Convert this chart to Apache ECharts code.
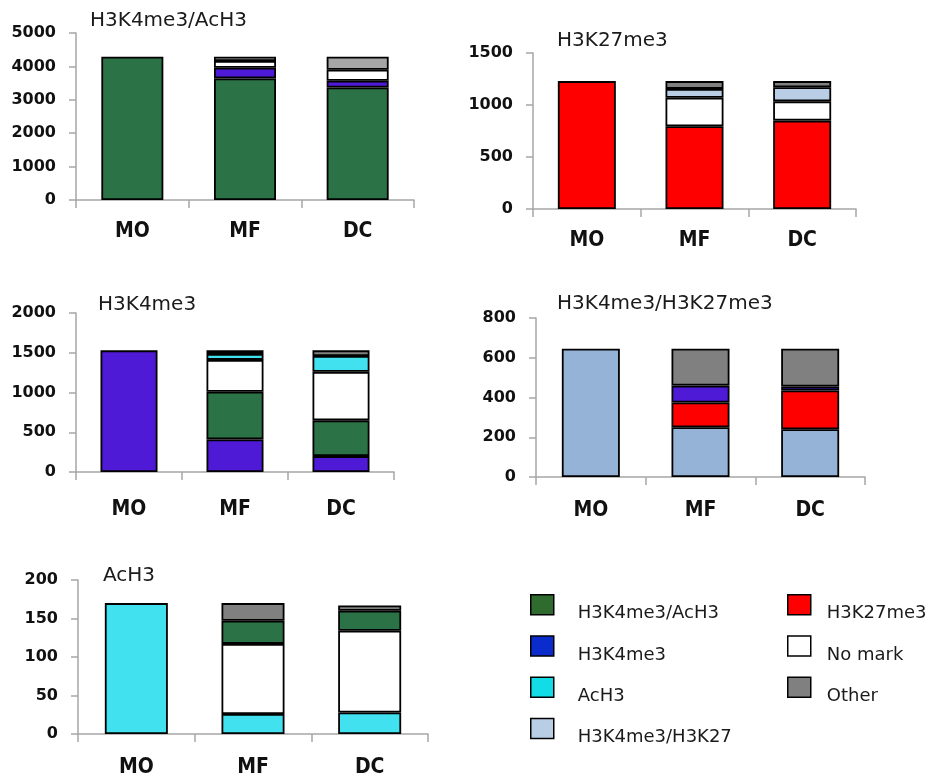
<!DOCTYPE html>
<html>
<head>
<meta charset="utf-8">
<script src="https://cdn.jsdelivr.net/npm/echarts@6/dist/echarts.min.js"></script>
<style>
  html, body { margin: 0; padding: 0; background: #fff; }
  #chart { width: 930px; height: 778px; }
</style>
</head>
<body>
<div id="chart"></div>
<script>
// Cell types on the x axis
const categories = ['MO', 'MF', 'DC'];

// Panel 1: genes marked H3K4me3/AcH3 in MO
const p1Title = 'H3K4me3/AcH3';
const p1Ticks = [0, 1000, 2000, 3000, 4000, 5000];
const p1Dual = [4290, 3640, 3370];
const p1K4 = [null, 320, 200];
const p1NoMark = [null, 200, 330];
const p1Other = [null, 130, 390];

// Panel 2: genes marked H3K27me3 in MO
const p2Title = 'H3K27me3';
const p2Ticks = [0, 500, 1000, 1500];
const p2K27 = [1230, 795, 850];
const p2NoMark = [null, 275, 185];
const p2Biv = [null, 85, 135];
const p2Other = [null, 75, 60];

// Panel 3: genes marked H3K4me3 in MO
const p3Title = 'H3K4me3';
const p3Ticks = [0, 500, 1000, 1500, 2000];
const p3K4 = [1530, 410, 200];
const p3Dual = [null, 600, 450];
const p3NoMark = [null, 400, 610];
const p3Ac = [null, 75, 200];
const p3Other = [null, 45, 70];

// Panel 4: genes marked H3K4me3/H3K27me3 in MO
const p4Title = 'H3K4me3/H3K27me3';
const p4Ticks = [0, 200, 400, 600, 800];
const p4Biv = [645, 250, 240];
const p4K27 = [null, 125, 195];
const p4K4 = [null, 85, 20];
const p4Other = [null, 185, 190];

// Panel 5: genes marked AcH3 in MO
const p5Title = 'AcH3';
const p5Ticks = [0, 50, 100, 150, 200];
const p5Ac = [170, 26, 28];
const p5NoMark = [null, 91, 106];
const p5Dual = [null, 30, 26];
const p5Other = [null, 23, 7];

// Series names shared by all panels
const N_DUAL = 'H3K4me3/AcH3';
const N_K4 = 'H3K4me3';
const N_AC = 'AcH3';
const N_BIV = 'H3K4me3/H3K27';
const N_K27 = 'H3K27me3';
const N_NONE = 'No mark';
const N_OTHER = 'Other';

const C = {
  dual: '#2b7347',
  k4: '#4f1ad6',
  ac: '#41e1ef',
  biv: '#95b3d7',
  bivLight: '#b9cde5',
  k27: '#ff0000',
  none: '#ffffff',
  other: '#808080',
  otherLight: '#a6a6a6'
};

const TXT = 'DejaVu Sans';
const CAT_FONT = "'Liberation Sans Narrow', 'DejaVu Sans Condensed', 'Open Sans', sans-serif";

const panels = [
  { title: p1Title, ticks: p1Ticks, barWidth: 62,
    grid: { left: 76, top: 33, width: 338, height: 167 },
    titlePos: { left: 90, top: 11 }, catMargin: 21,
    stack: [[N_DUAL, p1Dual, C.dual], [N_K4, p1K4, C.k4], [N_NONE, p1NoMark, C.none], [N_OTHER, p1Other, C.otherLight]] },
  { title: p2Title, ticks: p2Ticks, barWidth: 58,
    grid: { left: 533, top: 53, width: 323, height: 156 },
    titlePos: { left: 557, top: 31 }, catMargin: 21,
    stack: [[N_K27, p2K27, C.k27], [N_NONE, p2NoMark, C.none], [N_BIV, p2Biv, C.bivLight], [N_OTHER, p2Other, C.other]] },
  { title: p3Title, ticks: p3Ticks, barWidth: 57,
    grid: { left: 76, top: 313, width: 318, height: 159 },
    titlePos: { left: 98, top: 295 }, catMargin: 27,
    stack: [[N_K4, p3K4, C.k4], [N_DUAL, p3Dual, C.dual], [N_NONE, p3NoMark, C.none], [N_AC, p3Ac, C.ac], [N_OTHER, p3Other, C.other]] },
  { title: p4Title, ticks: p4Ticks, barWidth: 58,
    grid: { left: 536, top: 318, width: 329, height: 159 },
    titlePos: { left: 557, top: 294 }, catMargin: 23,
    stack: [[N_BIV, p4Biv, C.biv], [N_K27, p4K27, C.k27], [N_K4, p4K4, C.k4], [N_OTHER, p4Other, C.other]] },
  { title: p5Title, ticks: p5Ticks, barWidth: 63,
    grid: { left: 78, top: 580, width: 350, height: 156 },
    titlePos: { left: 103, top: 566 }, catMargin: 23,
    stack: [[N_AC, p5Ac, C.ac], [N_NONE, p5NoMark, C.none], [N_DUAL, p5Dual, C.dual], [N_OTHER, p5Other, C.other]] }
];

const axisLineStyle = { color: '#a6a6a6', width: 1.5 };

const option = {
  animation: false,
  backgroundColor: '#ffffff',
  title: [],
  grid: [],
  xAxis: [],
  yAxis: [],
  series: [],
  legend: []
};

panels.forEach((p, i) => {
  option.title.push({
    text: p.title, left: p.titlePos.left, top: p.titlePos.top, padding: 0,
    textStyle: { fontFamily: TXT, fontSize: 20, fontWeight: 'normal', color: '#1a1a1a' }
  });
  option.grid.push(Object.assign({ containLabel: false }, p.grid));
  option.xAxis.push({
    type: 'category', gridIndex: i, data: categories,
    axisLine: { lineStyle: axisLineStyle },
    axisTick: { show: true, length: 8, lineStyle: axisLineStyle },
    axisLabel: { margin: p.catMargin, fontFamily: CAT_FONT, fontSize: 21, fontWeight: 'bold', color: '#111' },
    splitLine: { show: false }
  });
  const t = p.ticks;
  option.yAxis.push({
    type: 'value', gridIndex: i,
    min: t[0], max: t[t.length - 1], interval: t[1] - t[0],
    axisLine: { show: true, lineStyle: axisLineStyle },
    axisTick: { show: true, length: 7, lineStyle: axisLineStyle },
    axisLabel: { margin: 20, fontFamily: TXT, fontSize: 16, fontWeight: 'bold', color: '#111',
      formatter: (v) => String(v) },
    splitLine: { show: false }
  });
  p.stack.forEach(([name, values, color]) => {
    option.series.push({
      type: 'bar', name: name, xAxisIndex: i, yAxisIndex: i,
      stack: 'panel' + i, barWidth: p.barWidth, data: values,
      itemStyle: { color: color, borderColor: '#000', borderWidth: 1.8 },
      emphasis: { disabled: true }
    });
  });
});

// Legend in two columns, with its own swatch colours; labels sit a little below each swatch
const legendText = (padLeft) => ({
  fontFamily: TXT, fontSize: 18, color: '#1a1a1a',
  rich: { t: { fontFamily: TXT, fontSize: 18, color: '#1a1a1a', padding: [18, 0, 0, padLeft] } }
});
const swatch = (name, color) => ({ name, itemStyle: { color, borderColor: '#000', borderWidth: 1.5 } });
const legendBase = {
  orient: 'vertical', top: 594, padding: 0,
  itemWidth: 23, itemHeight: 20, itemGap: 12.5, icon: 'rect', selectedMode: false,
  formatter: '{t|{name}}'
};
option.legend.push(Object.assign({}, legendBase, {
  left: 530, textStyle: legendText(19),
  data: [swatch(N_DUAL, '#2f6b2e'), swatch(N_K4, '#0b2ccc'), swatch(N_AC, '#12dde6'), swatch(N_BIV, '#b9cde5')]
}));
option.legend.push(Object.assign({}, legendBase, {
  left: 787, textStyle: legendText(11),
  data: [swatch(N_K27, '#ff0000'), swatch(N_NONE, '#ffffff'), swatch(N_OTHER, '#808080')]
}));

const chart = echarts.init(document.getElementById('chart'), null, { renderer: 'canvas' });
chart.setOption(option);
</script>
</body>
</html>
